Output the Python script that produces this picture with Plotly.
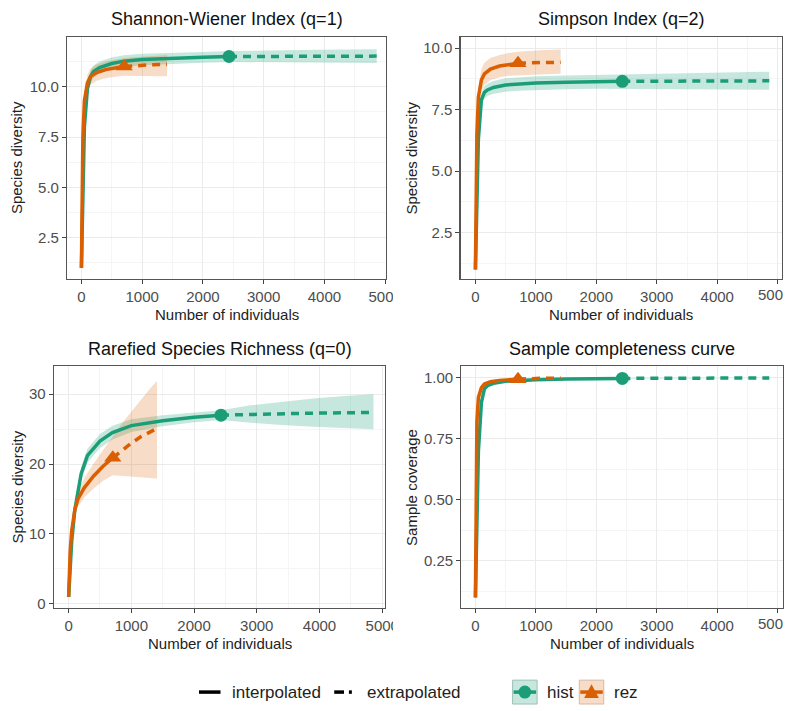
import plotly.graph_objects as go

# ---------------- data ----------------
# sample sizes (number of individuals)
hist_m_int = [1, 25, 50, 100, 150, 200, 300, 500, 700, 1000, 1500, 2000, 2430]
hist_m_ext = [2430, 2900, 3400, 3900, 4400, 4860]
rez_m_int = [1, 10, 25, 50, 100, 150, 250, 400, 550, 705]
rez_m_ext = [705, 850, 1000, 1150, 1300, 1410]

# Shannon-Wiener (q=1)
q1_hist_int = [1, 5.5, 8.0, 9.9, 10.5, 10.75, 10.95, 11.15, 11.27, 11.35, 11.42, 11.46, 11.5]
q1_hist_int_lo = [1, 5.3, 7.7, 9.6, 10.2, 10.45, 10.65, 10.85, 10.98, 11.06, 11.14, 11.19, 11.23]
q1_hist_int_hi = [1, 5.7, 8.3, 10.2, 10.8, 11.05, 11.25, 11.45, 11.56, 11.64, 11.7, 11.73, 11.77]
q1_hist_ext = [11.5, 11.51, 11.51, 11.52, 11.52, 11.52]
q1_hist_ext_lo = [11.23, 11.22, 11.21, 11.2, 11.19, 11.18]
q1_hist_ext_hi = [11.77, 11.8, 11.82, 11.84, 11.85, 11.86]
q1_rez_int = [1, 4, 7.5, 9.3, 10.2, 10.5, 10.7, 10.85, 10.93, 11.0]
q1_rez_int_lo = [1, 3.8, 7.1, 8.9, 9.8, 10.1, 10.3, 10.42, 10.5, 10.55]
q1_rez_int_hi = [1, 4.2, 7.9, 9.7, 10.6, 10.9, 11.1, 11.25, 11.35, 11.42]
q1_rez_ext = [11.0, 11.04, 11.07, 11.09, 11.1, 11.11]
q1_rez_ext_lo = [10.55, 10.55, 10.54, 10.53, 10.52, 10.52]
q1_rez_ext_hi = [11.42, 11.46, 11.5, 11.53, 11.55, 11.57]

# Simpson (q=2)
q2_hist_int = [1, 4, 6.3, 7.9, 8.2, 8.3, 8.4, 8.5, 8.54, 8.58, 8.61, 8.63, 8.65]
q2_hist_int_lo = [1, 3.85, 6.05, 7.65, 7.95, 8.05, 8.14, 8.23, 8.27, 8.3, 8.33, 8.35, 8.36]
q2_hist_int_hi = [1, 4.15, 6.55, 8.15, 8.45, 8.55, 8.66, 8.77, 8.81, 8.86, 8.89, 8.91, 8.94]
q2_hist_ext = [8.65, 8.66, 8.66, 8.67, 8.67, 8.67]
q2_hist_ext_lo = [8.36, 8.35, 8.34, 8.33, 8.32, 8.31]
q2_hist_ext_hi = [8.94, 8.97, 8.99, 9.01, 9.03, 9.04]
q2_rez_int = [1, 3.5, 6.5, 8.0, 8.7, 8.95, 9.15, 9.27, 9.33, 9.38]
q2_rez_int_lo = [1, 3.3, 6.1, 7.6, 8.25, 8.5, 8.7, 8.82, 8.88, 8.92]
q2_rez_int_hi = [1, 3.7, 6.9, 8.4, 9.15, 9.4, 9.6, 9.72, 9.8, 9.85]
q2_rez_ext = [9.38, 9.4, 9.41, 9.42, 9.42, 9.43]
q2_rez_ext_lo = [8.92, 8.93, 8.94, 8.95, 8.95, 8.96]
q2_rez_ext_hi = [9.85, 9.88, 9.9, 9.92, 9.93, 9.94]

# Species richness (q=0)
q0_hist_int = [1, 5.5, 9.0, 13.5, 16.2, 18.6, 21.2, 23.3, 24.5, 25.5, 26.2, 26.7, 27.0]
q0_hist_int_lo = [1, 5.2, 8.5, 12.8, 15.4, 17.7, 20.2, 22.3, 23.5, 24.6, 25.4, 26.0, 26.3]
q0_hist_int_hi = [1, 5.8, 9.5, 14.2, 17.0, 19.5, 22.2, 24.3, 25.5, 26.4, 27.0, 27.4, 27.7]
q0_hist_ext = [27.0, 27.12, 27.22, 27.29, 27.34, 27.38]
q0_hist_ext_lo = [26.3, 25.9, 25.6, 25.35, 25.15, 25.0]
q0_hist_ext_hi = [27.7, 28.4, 28.95, 29.4, 29.75, 30.0]
q0_rez_int = [1, 4, 7.5, 10.5, 13.5, 15.0, 16.6, 18.3, 19.7, 20.9]
q0_rez_int_lo = [1, 3.8, 7.0, 9.8, 12.6, 13.9, 15.2, 16.5, 17.6, 18.4]
q0_rez_int_hi = [1, 4.2, 8.0, 11.2, 14.4, 16.1, 18.0, 20.1, 22.0, 24.0]
q0_rez_ext = [20.9, 22.0, 23.0, 23.9, 24.6, 25.1]
q0_rez_ext_lo = [18.4, 18.3, 18.2, 18.1, 18.0, 17.9]
q0_rez_ext_hi = [24.0, 25.8, 27.5, 29.2, 30.8, 31.9]

# Sample coverage
sc_hist_int = [0.1, 0.45, 0.7, 0.9, 0.955, 0.968, 0.978, 0.986, 0.99, 0.993, 0.996, 0.997, 0.998]
sc_hist_int_lo = [0.1, 0.44, 0.69, 0.89, 0.948, 0.962, 0.973, 0.982, 0.987, 0.99, 0.994, 0.995, 0.996]
sc_hist_int_hi = [0.1, 0.46, 0.71, 0.91, 0.962, 0.974, 0.983, 0.99, 0.993, 0.996, 0.998, 0.999, 1.0]
sc_hist_ext = [0.998, 0.999, 0.999, 1.0, 1.0, 1.0]
sc_hist_ext_lo = [0.996, 0.997, 0.998, 0.998, 0.999, 0.999]
sc_hist_ext_hi = [1.0, 1.0, 1.0, 1.0, 1.0, 1.0]
sc_rez_int = [0.1, 0.55, 0.82, 0.92, 0.96, 0.975, 0.985, 0.99, 0.993, 0.995]
sc_rez_int_lo = [0.1, 0.53, 0.8, 0.905, 0.95, 0.967, 0.979, 0.985, 0.989, 0.991]
sc_rez_int_hi = [0.1, 0.57, 0.84, 0.935, 0.97, 0.983, 0.991, 0.995, 0.997, 0.999]
sc_rez_ext = [0.995, 0.997, 0.998, 0.999, 0.999, 1.0]
sc_rez_ext_lo = [0.991, 0.993, 0.995, 0.996, 0.997, 0.997]
sc_rez_ext_hi = [0.999, 1.0, 1.0, 1.0, 1.0, 1.0]

x_ticks = [0, 1000, 2000, 3000, 4000, 5000]

panels = [
    dict(title="Shannon-Wiener Index (q=1)", ytitle="Species diversity",
         yticks=[2.5, 5.0, 7.5, 10.0], yfmt=".1f",
         hist=(q1_hist_int, q1_hist_int_lo, q1_hist_int_hi, q1_hist_ext, q1_hist_ext_lo, q1_hist_ext_hi),
         rez=(q1_rez_int, q1_rez_int_lo, q1_rez_int_hi, q1_rez_ext, q1_rez_ext_lo, q1_rez_ext_hi),
         box=(68.5, 394, 37, 280.7), xr=[-234, 5016], yr=[0.44, 12.48]),
    dict(title="Simpson Index (q=2)", ytitle="Species diversity",
         yticks=[2.5, 5.0, 7.5, 10.0], yfmt=".1f",
         hist=(q2_hist_int, q2_hist_int_lo, q2_hist_int_hi, q2_hist_ext, q2_hist_ext_lo, q2_hist_ext_hi),
         rez=(q2_rez_int, q2_rez_int_lo, q2_rez_int_hi, q2_rez_ext, q2_rez_ext_lo, q2_rez_ext_hi),
         box=(470, 798, 37, 280.7), xr=[-243, 5073], yr=[0.61, 10.46]),
    dict(title="Rarefied Species Richness (q=0)", ytitle="Species diversity",
         yticks=[0, 10, 20, 30], yfmt="d",
         hist=(q0_hist_int, q0_hist_int_lo, q0_hist_int_hi, q0_hist_ext, q0_hist_ext_lo, q0_hist_ext_hi),
         rez=(q0_rez_int, q0_rez_int_lo, q0_rez_int_hi, q0_rez_ext, q0_rez_ext_lo, q0_rez_ext_hi),
         box=(55, 393, 368.3, 611.7), xr=[-234, 5047], yr=[-0.63, 34.0]),
    dict(title="Sample completeness curve", ytitle="Sample coverage",
         yticks=[0.25, 0.50, 0.75, 1.00], yfmt=".2f",
         hist=(sc_hist_int, sc_hist_int_lo, sc_hist_int_hi, sc_hist_ext, sc_hist_ext_lo, sc_hist_ext_hi),
         rez=(sc_rez_int, sc_rez_int_lo, sc_rez_int_hi, sc_rez_ext, sc_rez_ext_lo, sc_rez_ext_hi),
         box=(470.7, 799, 368.3, 611.7), xr=[-232, 5089], yr=[0.0555, 1.048]),
]

W, H = 805, 711
GREEN = "#1B9E77"
ORANGE = "#D95F02"
GREEN_BAND = "rgba(27,158,119,0.25)"
ORANGE_BAND = "rgba(217,95,2,0.22)"
FONT = "Liberation Sans, Arial, sans-serif"
TICK_FONT = dict(family=FONT, size=15, color="#4D4D4D")


def px(x):
    return x / W


def py(y):
    return 1 - y / H


fig = go.Figure()
layout = dict(
    width=W, height=H, margin=dict(l=0, r=0, t=0, b=0),
    paper_bgcolor="white", plot_bgcolor="white", showlegend=False,
    font=dict(family=FONT, color="#000"),
)
annotations = []
shapes = []

series_style = {
    "hist": (hist_m_int, hist_m_ext, GREEN, GREEN_BAND, "circle", 13),
    "rez": (rez_m_int, rez_m_ext, ORANGE, ORANGE_BAND, "triangle-up", 15),
}

for i, p in enumerate(panels):
    k = "" if i == 0 else str(i + 1)
    xa, ya = "x" + k, "y" + k
    x0, x1, y0, y1 = p["box"]
    right_col = x0 > 400

    # confidence bands first
    for name in ("hist", "rez"):
        m_int, m_ext, col, band, sym, msz = series_style[name]
        v_int, lo_int, hi_int, v_ext, lo_ext, hi_ext = p[name]
        mx = m_int + m_ext[1:]
        lo = lo_int + lo_ext[1:]
        hi = hi_int + hi_ext[1:]
        fig.add_trace(go.Scatter(
            x=mx + mx[::-1], y=hi + lo[::-1], fill="toself", fillcolor=band,
            line=dict(width=0), mode="lines", hoverinfo="skip",
            xaxis=xa, yaxis=ya))
    # curves and observed points
    for name in ("hist", "rez"):
        m_int, m_ext, col, band, sym, msz = series_style[name]
        v_int, lo_int, hi_int, v_ext, lo_ext, hi_ext = p[name]
        fig.add_trace(go.Scatter(
            x=m_int, y=v_int, mode="lines", line=dict(color=col, width=3.5),
            xaxis=xa, yaxis=ya, name=name))
        fig.add_trace(go.Scatter(
            x=m_ext, y=v_ext, mode="lines",
            line=dict(color=col, width=3.5, dash="8px,6px"),
            xaxis=xa, yaxis=ya, name=name))
        fig.add_trace(go.Scatter(
            x=[m_int[-1]], y=[v_int[-1]], mode="markers",
            marker=dict(color=col, size=msz, symbol=sym),
            xaxis=xa, yaxis=ya, name=name))

    axis_common = dict(
        showline=True, linecolor="#555", linewidth=1.2, mirror=True,
        ticks="outside", ticklen=4, tickwidth=1, tickcolor="#444",
        showgrid=True, gridcolor="#EBEBEB", gridwidth=1,
        zeroline=False, tickfont=TICK_FONT,
    )
    # the last x label runs past the page edge in the right column, so only
    # its visible part is written
    xt_text = [str(t) for t in x_ticks]
    if right_col:
        xt_text[-1] = ""
    layout["xaxis" + k] = dict(
        axis_common, domain=[px(x0), px(x1)], anchor=ya, range=p["xr"],
        tickvals=x_ticks, ticktext=xt_text,
        minor=dict(showgrid=True, gridcolor="#F5F5F5", tickvals=[500, 1500, 2500, 3500, 4500]))
    step = p["yticks"][1] - p["yticks"][0]
    minor_y = [p["yticks"][0] - step / 2] + [t + step / 2 for t in p["yticks"]]
    layout["yaxis" + k] = dict(
        axis_common, domain=[py(y1), py(y0)], anchor=xa, range=p["yr"],
        tickvals=p["yticks"], tickformat=p["yfmt"],
        minor=dict(showgrid=True, gridcolor="#F5F5F5", tickvals=minor_y))
    if right_col:
        annotations.append(dict(
            text="500", x=px(801), y=py(y1 + 15), xref="paper", yref="paper",
            xanchor="right", yanchor="middle", showarrow=False, font=TICK_FONT))

    cx = (x0 + x1) / 2
    annotations.append(dict(
        text=p["title"], x=px(cx), y=py(y0 - 17.5), xref="paper", yref="paper",
        xanchor="center", yanchor="middle", showarrow=False,
        font=dict(family=FONT, size=18, color="#111")))
    annotations.append(dict(
        text="Number of individuals", x=px(cx), y=py(y1 + 35.5), xref="paper", yref="paper",
        xanchor="center", yanchor="middle", showarrow=False,
        font=dict(family=FONT, size=15, color="#222")))
    ytx = 420 if right_col else 17.5
    annotations.append(dict(
        text=p["ytitle"], x=px(ytx), y=py((y0 + y1) / 2), xref="paper", yref="paper",
        xanchor="center", yanchor="middle", showarrow=False, textangle=-90,
        font=dict(family=FONT, size=15, color="#222")))

# the left column's last tick label is cut at the column edge
for (ya0, ya1) in [(285, 305), (616, 636)]:
    shapes.append(dict(type="rect", xref="paper", yref="paper", layer="above",
                       x0=px(401), x1=px(416), y0=py(ya1), y1=py(ya0),
                       fillcolor="white", line=dict(width=0)))

# ---------------- legend ----------------
LY = 696
LEG_FONT = dict(family=FONT, size=17, color="#222")
shapes.append(dict(type="line", xref="paper", yref="paper", x0=px(203), x1=px(225),
                   y0=py(LY), y1=py(LY), line=dict(color="black", width=3.5)))
annotations.append(dict(text="interpolated", x=px(235), y=py(LY), xref="paper", yref="paper",
                        xanchor="left", yanchor="middle", showarrow=False, font=LEG_FONT))
shapes.append(dict(type="line", xref="paper", yref="paper", x0=px(341), x1=px(351),
                   y0=py(LY), y1=py(LY), line=dict(color="black", width=3.5)))
shapes.append(dict(type="line", xref="paper", yref="paper", x0=px(356), x1=px(359),
                   y0=py(LY), y1=py(LY), line=dict(color="black", width=3.5)))
annotations.append(dict(text="extrapolated", x=px(372), y=py(LY), xref="paper", yref="paper",
                        xanchor="left", yanchor="middle", showarrow=False, font=LEG_FONT))

# hist key
shapes.append(dict(type="rect", xref="paper", yref="paper", x0=px(523), x1=px(548),
                   y0=py(LY + 12), y1=py(LY - 12), fillcolor=GREEN_BAND,
                   line=dict(color="#9fbfb3", width=1)))
shapes.append(dict(type="line", xref="paper", yref="paper", x0=px(524), x1=px(547),
                   y0=py(LY), y1=py(LY), line=dict(color=GREEN, width=3.5)))
shapes.append(dict(type="circle", xref="paper", yref="paper", x0=px(529), x1=px(542),
                   y0=py(LY + 6.5), y1=py(LY - 6.5), fillcolor=GREEN, line=dict(width=0)))
annotations.append(dict(text="hist", x=px(556), y=py(LY), xref="paper", yref="paper",
                        xanchor="left", yanchor="middle", showarrow=False, font=LEG_FONT))
# rez key
shapes.append(dict(type="rect", xref="paper", yref="paper", x0=px(591), x1=px(616),
                   y0=py(LY + 12), y1=py(LY - 12), fillcolor=ORANGE_BAND,
                   line=dict(color="#d9b9a0", width=1)))
shapes.append(dict(type="line", xref="paper", yref="paper", x0=px(592), x1=px(615),
                   y0=py(LY), y1=py(LY), line=dict(color=ORANGE, width=3.5)))
tri = "M {:.5f},{:.5f} L {:.5f},{:.5f} L {:.5f},{:.5f} Z".format(
    px(596), py(LY + 6), px(611), py(LY + 6), px(603.5), py(LY - 8))
shapes.append(dict(type="path", xref="paper", yref="paper", path=tri,
                   fillcolor=ORANGE, line=dict(width=0)))
annotations.append(dict(text="rez", x=px(624), y=py(LY), xref="paper", yref="paper",
                        xanchor="left", yanchor="middle", showarrow=False, font=LEG_FONT))

layout["annotations"] = annotations
layout["shapes"] = shapes
fig.update_layout(**layout)

# page without the default body margin or scrollbars, so the figure fills the window
page_css = ("document.body.style.margin='0';"
            "document.documentElement.style.overflow='hidden';"
            "document.body.style.overflow='hidden';")
# static figure: no drag handles or mode bar around the panels
fig.write_html("out.html", config={"staticPlot": True}, post_script=page_css)
